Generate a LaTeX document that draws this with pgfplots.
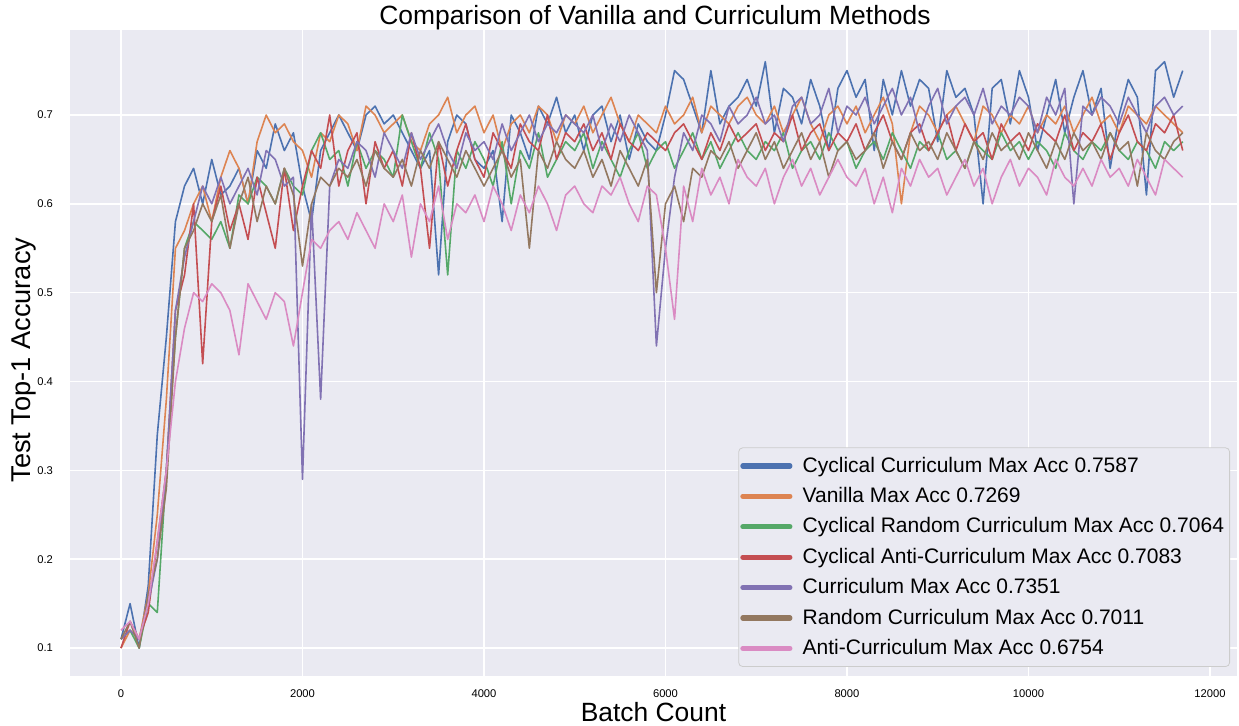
\documentclass[border=0pt]{standalone}
\usepackage{fontspec}
\setmainfont{Liberation Sans}
\usepackage{pgfplots}
\pgfplotsset{compat=1.18}
\usepackage{pgfplotstable}
\definecolor{sbbg}{HTML}{EAEAF2}
\definecolor{sbedge}{HTML}{CCCCCC}
\definecolor{cblue}{HTML}{4C72B0}
\definecolor{corange}{HTML}{DD8452}
\definecolor{cgreen}{HTML}{55A868}
\definecolor{cred}{HTML}{C44E52}
\definecolor{cpurple}{HTML}{8172B3}
\definecolor{cbrown}{HTML}{937860}
\definecolor{cpink}{HTML}{DA8BC3}

\pgfplotstableread[row sep=\\]{
y\\
0.11\\0.15\\0.10\\0.17\\0.34\\0.45\\0.58\\0.62\\0.64\\0.60\\
0.65\\0.61\\0.62\\0.64\\0.60\\0.66\\0.64\\0.69\\0.66\\0.68\\
0.62\\0.58\\0.66\\0.68\\0.70\\0.68\\0.66\\0.70\\0.71\\0.69\\
0.70\\0.68\\0.66\\0.64\\0.66\\0.52\\0.67\\0.70\\0.69\\0.65\\
0.64\\0.66\\0.58\\0.70\\0.68\\0.65\\0.71\\0.69\\0.72\\0.68\\
0.70\\0.66\\0.70\\0.71\\0.67\\0.70\\0.65\\0.69\\0.67\\0.66\\
0.70\\0.75\\0.74\\0.71\\0.68\\0.75\\0.69\\0.71\\0.72\\0.74\\
0.71\\0.76\\0.68\\0.73\\0.72\\0.69\\0.74\\0.71\\0.66\\0.73\\
0.75\\0.72\\0.74\\0.66\\0.74\\0.70\\0.75\\0.71\\0.74\\0.73\\
0.67\\0.75\\0.72\\0.73\\0.70\\0.60\\0.73\\0.74\\0.69\\0.75\\
0.72\\0.66\\0.70\\0.74\\0.68\\0.72\\0.75\\0.70\\0.73\\0.64\\
0.70\\0.74\\0.72\\0.61\\0.75\\0.76\\0.72\\0.75\\
}\tblue

\pgfplotstableread[row sep=\\]{
y\\
0.10\\0.12\\0.11\\0.16\\0.25\\0.38\\0.55\\0.57\\0.60\\0.62\\
0.58\\0.63\\0.66\\0.64\\0.60\\0.67\\0.70\\0.68\\0.69\\0.67\\
0.66\\0.63\\0.68\\0.67\\0.70\\0.69\\0.66\\0.71\\0.70\\0.68\\
0.69\\0.70\\0.67\\0.66\\0.69\\0.70\\0.72\\0.68\\0.70\\0.71\\
0.68\\0.70\\0.66\\0.69\\0.70\\0.68\\0.71\\0.70\\0.67\\0.70\\
0.69\\0.71\\0.68\\0.70\\0.72\\0.69\\0.67\\0.70\\0.69\\0.68\\
0.71\\0.69\\0.70\\0.72\\0.68\\0.71\\0.70\\0.69\\0.71\\0.72\\
0.70\\0.69\\0.71\\0.68\\0.70\\0.72\\0.69\\0.67\\0.70\\0.71\\
0.69\\0.71\\0.68\\0.70\\0.72\\0.69\\0.60\\0.68\\0.71\\0.70\\
0.68\\0.70\\0.71\\0.69\\0.67\\0.71\\0.70\\0.68\\0.70\\0.69\\
0.71\\0.68\\0.70\\0.69\\0.71\\0.68\\0.70\\0.72\\0.69\\0.70\\
0.68\\0.71\\0.70\\0.69\\0.71\\0.70\\0.69\\0.68\\
}\torange

\pgfplotstableread[row sep=\\]{
y\\
0.11\\0.12\\0.10\\0.15\\0.14\\0.30\\0.45\\0.55\\0.58\\0.57\\
0.56\\0.58\\0.55\\0.61\\0.60\\0.63\\0.62\\0.60\\0.64\\0.62\\
0.61\\0.66\\0.68\\0.65\\0.66\\0.62\\0.67\\0.64\\0.66\\0.65\\
0.63\\0.70\\0.67\\0.64\\0.68\\0.65\\0.52\\0.66\\0.64\\0.67\\
0.65\\0.62\\0.67\\0.60\\0.66\\0.64\\0.68\\0.63\\0.65\\0.67\\
0.66\\0.68\\0.64\\0.67\\0.65\\0.63\\0.66\\0.68\\0.64\\0.66\\
0.67\\0.64\\0.66\\0.68\\0.65\\0.67\\0.64\\0.66\\0.68\\0.66\\
0.65\\0.67\\0.66\\0.68\\0.64\\0.66\\0.67\\0.65\\0.68\\0.66\\
0.67\\0.64\\0.66\\0.67\\0.65\\0.68\\0.66\\0.64\\0.67\\0.66\\
0.68\\0.65\\0.66\\0.64\\0.67\\0.66\\0.65\\0.68\\0.66\\0.67\\
0.65\\0.67\\0.66\\0.64\\0.68\\0.66\\0.65\\0.67\\0.66\\0.68\\
0.66\\0.65\\0.67\\0.66\\0.64\\0.67\\0.66\\0.67\\
}\tgreen

\pgfplotstableread[row sep=\\]{
y\\
0.10\\0.13\\0.11\\0.14\\0.22\\0.30\\0.48\\0.52\\0.60\\0.42\\
0.58\\0.62\\0.57\\0.60\\0.56\\0.63\\0.59\\0.55\\0.64\\0.57\\
0.62\\0.66\\0.64\\0.70\\0.62\\0.66\\0.68\\0.60\\0.67\\0.64\\
0.66\\0.62\\0.68\\0.64\\0.55\\0.67\\0.62\\0.66\\0.69\\0.65\\
0.63\\0.68\\0.66\\0.64\\0.69\\0.67\\0.66\\0.70\\0.65\\0.68\\
0.67\\0.69\\0.66\\0.68\\0.65\\0.69\\0.67\\0.66\\0.68\\0.67\\
0.66\\0.68\\0.69\\0.67\\0.65\\0.68\\0.66\\0.69\\0.67\\0.68\\
0.69\\0.66\\0.68\\0.67\\0.70\\0.66\\0.68\\0.69\\0.66\\0.68\\
0.67\\0.69\\0.66\\0.68\\0.70\\0.67\\0.65\\0.68\\0.69\\0.66\\
0.68\\0.70\\0.66\\0.69\\0.67\\0.68\\0.65\\0.69\\0.67\\0.68\\
0.66\\0.69\\0.68\\0.67\\0.70\\0.66\\0.68\\0.67\\0.69\\0.65\\
0.68\\0.70\\0.67\\0.66\\0.69\\0.68\\0.70\\0.66\\
}\tred

\pgfplotstableread[row sep=\\]{
y\\
0.11\\0.12\\0.11\\0.15\\0.20\\0.30\\0.48\\0.54\\0.58\\0.62\\
0.60\\0.63\\0.60\\0.62\\0.64\\0.61\\0.66\\0.65\\0.62\\0.63\\
0.29\\0.60\\0.38\\0.62\\0.65\\0.64\\0.67\\0.66\\0.63\\0.68\\
0.66\\0.64\\0.68\\0.65\\0.67\\0.69\\0.66\\0.64\\0.68\\0.66\\
0.67\\0.65\\0.69\\0.66\\0.68\\0.70\\0.67\\0.69\\0.68\\0.70\\
0.69\\0.68\\0.70\\0.66\\0.69\\0.67\\0.70\\0.68\\0.66\\0.44\\
0.55\\0.63\\0.68\\0.66\\0.70\\0.69\\0.67\\0.71\\0.69\\0.70\\
0.72\\0.69\\0.70\\0.67\\0.71\\0.72\\0.69\\0.70\\0.73\\0.68\\
0.71\\0.70\\0.72\\0.69\\0.71\\0.73\\0.70\\0.72\\0.68\\0.71\\
0.73\\0.69\\0.71\\0.72\\0.70\\0.73\\0.69\\0.71\\0.70\\0.72\\
0.71\\0.68\\0.72\\0.70\\0.73\\0.60\\0.71\\0.70\\0.72\\0.71\\
0.69\\0.72\\0.70\\0.68\\0.71\\0.72\\0.70\\0.71\\
}\tpurple

\pgfplotstableread[row sep=\\]{
y\\
0.11\\0.13\\0.10\\0.16\\0.20\\0.28\\0.45\\0.55\\0.57\\0.60\\
0.58\\0.61\\0.55\\0.60\\0.63\\0.58\\0.62\\0.60\\0.64\\0.61\\
0.53\\0.60\\0.63\\0.62\\0.64\\0.63\\0.65\\0.62\\0.66\\0.64\\
0.63\\0.65\\0.62\\0.66\\0.64\\0.67\\0.65\\0.63\\0.66\\0.64\\
0.62\\0.64\\0.66\\0.63\\0.65\\0.55\\0.66\\0.64\\0.67\\0.65\\
0.64\\0.66\\0.63\\0.65\\0.62\\0.66\\0.64\\0.62\\0.65\\0.50\\
0.60\\0.62\\0.58\\0.64\\0.63\\0.66\\0.65\\0.67\\0.64\\0.66\\
0.68\\0.65\\0.67\\0.64\\0.66\\0.68\\0.65\\0.67\\0.63\\0.66\\
0.67\\0.65\\0.66\\0.68\\0.64\\0.67\\0.65\\0.68\\0.66\\0.67\\
0.65\\0.68\\0.66\\0.64\\0.67\\0.65\\0.68\\0.66\\0.67\\0.65\\
0.68\\0.66\\0.64\\0.67\\0.65\\0.68\\0.66\\0.67\\0.65\\0.68\\
0.66\\0.67\\0.62\\0.68\\0.66\\0.65\\0.67\\0.68\\
}\tbrown

\pgfplotstableread[row sep=\\]{
y\\
0.12\\0.13\\0.11\\0.15\\0.22\\0.30\\0.40\\0.46\\0.50\\0.49\\
0.51\\0.50\\0.48\\0.43\\0.51\\0.49\\0.47\\0.50\\0.49\\0.44\\
0.50\\0.56\\0.55\\0.57\\0.58\\0.56\\0.59\\0.57\\0.55\\0.60\\
0.58\\0.61\\0.54\\0.60\\0.58\\0.62\\0.56\\0.60\\0.59\\0.61\\
0.58\\0.62\\0.60\\0.57\\0.61\\0.59\\0.62\\0.60\\0.57\\0.61\\
0.62\\0.60\\0.59\\0.62\\0.61\\0.63\\0.60\\0.58\\0.62\\0.61\\
0.55\\0.47\\0.62\\0.58\\0.64\\0.61\\0.63\\0.60\\0.65\\0.63\\
0.62\\0.64\\0.60\\0.63\\0.65\\0.62\\0.64\\0.61\\0.63\\0.65\\
0.63\\0.62\\0.64\\0.60\\0.63\\0.59\\0.64\\0.62\\0.65\\0.63\\
0.64\\0.61\\0.63\\0.65\\0.62\\0.64\\0.60\\0.63\\0.65\\0.62\\
0.64\\0.63\\0.61\\0.65\\0.63\\0.62\\0.64\\0.62\\0.65\\0.63\\
0.64\\0.62\\0.65\\0.63\\0.61\\0.65\\0.64\\0.63\\
}\tpink

\begin{document}
\begin{tikzpicture}
\path[use as bounding box] (0,0) rectangle (619.5pt,362.5pt);
\begin{axis}[
  at={(35pt,24.5pt)}, anchor=south west,
  scale only axis, width=583.5pt, height=323pt,
  xmin=-562, xmax=12298, ymin=0.0685, ymax=0.7957,
  axis background/.style={fill=sbbg},
  axis line style={draw=none},
  major tick length=0pt,
  grid=major, major grid style={white, line width=0.8pt},
  xtick={0,2000,4000,6000,8000,10000,12000},
  ytick={0.1,0.2,0.3,0.4,0.5,0.6,0.7},
  scaled x ticks=false,
  /pgf/number format/set thousands separator={},
  /pgf/number format/assume math mode=true,
  yticklabel style={font=\fontsize{5.6}{6}\selectfont, /pgf/number format/fixed, /pgf/number format/precision=1, xshift=-5pt},
  xticklabel style={font=\fontsize{5.6}{6}\selectfont, yshift=-3.5pt},
  xlabel={Batch Count},
  xlabel style={font=\fontsize{13.2}{15}\selectfont, at={(axis description cs:0.5,-0.0557)}, anchor=center},
  ylabel={Test Top-1 Accuracy},
  ylabel style={font=\fontsize{13.6}{15}\selectfont, at={(axis description cs:-0.0395,0.489)}, anchor=center, rotate=0},
  legend style={at={(0.994,0.014)}, anchor=south east, draw=sbedge, fill=sbbg, rounded corners=2pt,
    font=\fontsize{10.5}{12}\selectfont, row sep=2.1pt, inner xsep=0.8pt, inner ysep=2.5pt, cells={anchor=west}},
  legend image code/.code={\draw[line width=2.6pt, line cap=round] (0pt,0pt) -- (23.5pt,0pt); \path (27.5pt,0pt);},
  every axis plot/.append style={line width=0.8pt, line join=round},
]
\addplot[cblue] table[x expr=\coordindex*100, y=y] {\tblue};
\addlegendentry{Cyclical Curriculum Max Acc 0.7587}
\addplot[corange] table[x expr=\coordindex*100, y=y] {\torange};
\addlegendentry{Vanilla Max Acc 0.7269}
\addplot[cgreen] table[x expr=\coordindex*100, y=y] {\tgreen};
\addlegendentry{Cyclical Random Curriculum Max Acc 0.7064}
\addplot[cred] table[x expr=\coordindex*100, y=y] {\tred};
\addlegendentry{Cyclical Anti-Curriculum Max Acc 0.7083}
\addplot[cpurple] table[x expr=\coordindex*100, y=y] {\tpurple};
\addlegendentry{Curriculum Max Acc 0.7351}
\addplot[cbrown] table[x expr=\coordindex*100, y=y] {\tbrown};
\addlegendentry{Random Curriculum Max Acc 0.7011}
\addplot[cpink] table[x expr=\coordindex*100, y=y] {\tpink};
\addlegendentry{Anti-Curriculum Max Acc 0.6754}
\end{axis}
\node[font=\fontsize{13.2}{15}\selectfont, anchor=center] at (327.5pt,353.5pt) {Comparison of Vanilla and Curriculum Methods};
\end{tikzpicture}
\end{document}
